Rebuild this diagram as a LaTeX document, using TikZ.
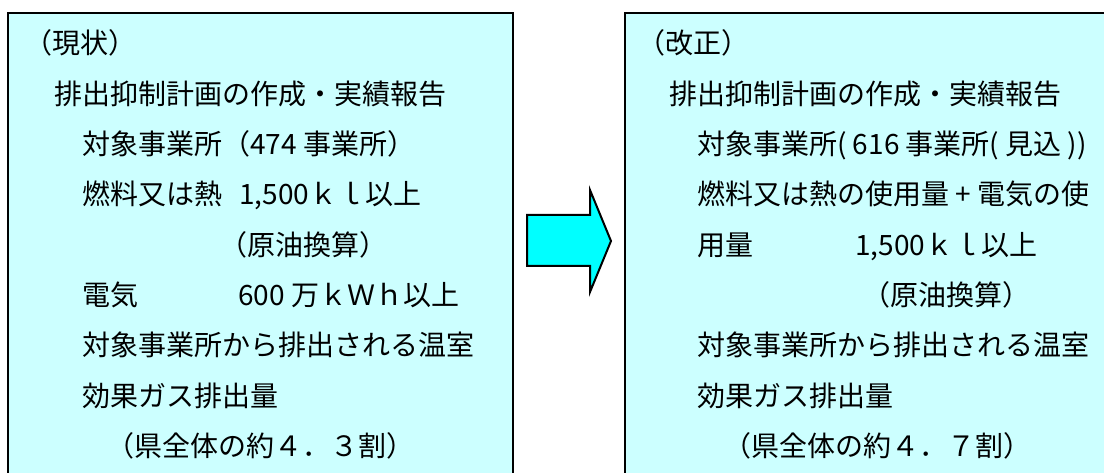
\documentclass[tikz,border=0pt]{standalone}
\usepackage{fontspec}
\newfontfamily\jpfont{Noto Sans CJK JP}
\definecolor{boxfill}{HTML}{CCFFFF}
\definecolor{arrowfill}{HTML}{00FFFF}
\tikzset{
  panel/.style={draw=black, line width=2pt, fill=boxfill},
  txt/.style={inner sep=0pt, anchor=base west, font=\jpfont\fontsize{28}{34}\selectfont},
  bigarrow/.style={draw=black, line width=2pt, fill=arrowfill, line join=miter}
}
\begin{document}
\begin{tikzpicture}[x=1pt,y=-1pt]
\useasboundingbox (0,0) rectangle (1104,473);
\clip (0,0) rectangle (1104,473);
\fill[white] (0,0) rectangle (1104,473);
% panels
\draw[panel] (8,13) rectangle (513,490);
\draw[panel] (625,13) rectangle (1130,490);
% arrow
\draw[bigarrow] (527,215) -- (590,215) -- (590,190) -- (611,241) -- (590,292) -- (590,266) -- (527,266) -- cycle;
% left panel text
\node[txt] (l1) at (24,54) {（現状）};
\node[txt] (l2) at (54,104.3) {排出抑制計画の作成・実績報告};
\node[txt] (l3) at (82,154.6) {対象事業所（474 事業所）};
\node[txt] (l4a) at (82,204.9) {燃料又は熱};
\node[txt] (l4b) at (239,204.9) {1,500ｋｌ以上};
\node[txt] (l5) at (219,255.2) {（原油換算）};
\node[txt] (l6a) at (82,305.5) {電気};
\node[txt] (l6b) at (238,305.5) {600 万ｋＷｈ以上};
\node[txt] (l7) at (82,355.8) {対象事業所から排出される温室};
\node[txt] (l8) at (82,406.1) {効果ガス排出量};
\node[txt] (l9) at (106,456.4) {（県全体の約４．３割）};
% right panel text
\node[txt] (r1) at (637,54) {（改正）};
\node[txt] (r2) at (669,104.3) {排出抑制計画の作成・実績報告};
\node[txt] (r3) at (697,154.6) {対象事業所( 616 事業所( 見込 ))};
\node[txt] (r4) at (697,204.9) {燃料又は熱の使用量 + 電気の使};
\node[txt] (r5a) at (697,255.2) {用量};
\node[txt] (r5b) at (855,255.2) {1,500ｋｌ以上};
\node[txt] (r6) at (862,305.5) {（原油換算）};
\node[txt] (r7) at (697,355.8) {対象事業所から排出される温室};
\node[txt] (r8) at (697,406.1) {効果ガス排出量};
\node[txt] (r9) at (723,456.4) {（県全体の約４．７割）};
\end{tikzpicture}
\end{document}
